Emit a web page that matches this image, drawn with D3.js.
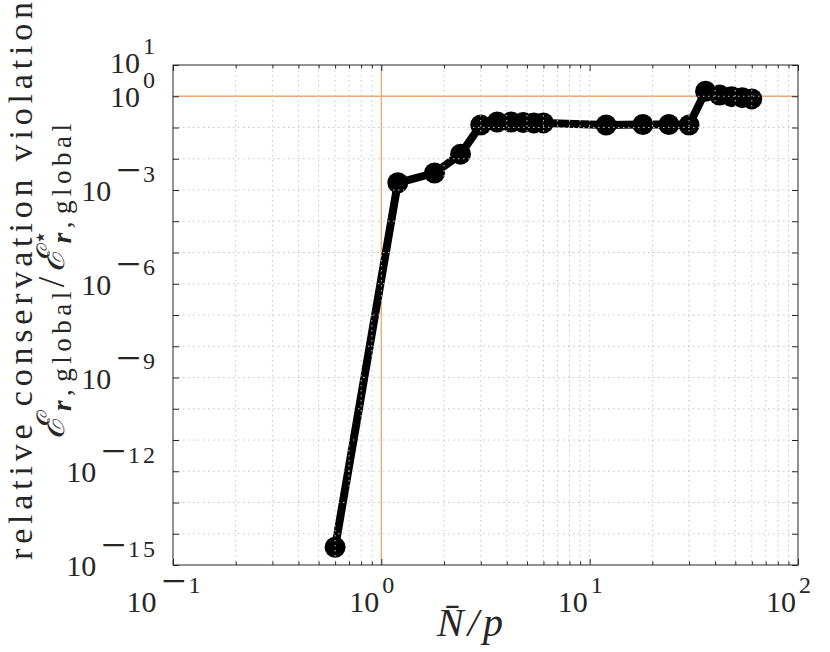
<!DOCTYPE html>
<html>
<head>
<meta charset="utf-8">
<script src="https://cdn.jsdelivr.net/npm/d3@7/dist/d3.min.js"></script>
<style>
  html, body { margin: 0; padding: 0; background: #fff; }
  svg { display: block; }
</style>
</head>
<body>
<svg id="chart" width="830" height="652"></svg>
<script>
// ---- data ----
const ratioValues = [0.6, 1.2, 1.8, 2.4, 3.0, 3.6, 4.2, 4.8, 5.4, 6.0, 12, 18, 24, 30, 36, 42, 48, 54, 60];
const violationValues = [3.7e-15, 1.7e-3, 3.5e-3, 1.4e-2, 0.12, 0.15, 0.15, 0.145, 0.14, 0.14, 0.12, 0.125, 0.125, 0.12, 1.45, 1.1, 0.97, 0.9, 0.82];
const xDomain = [0.1, 100];
const yDomain = [1e-15, 1e1];
const xTickValues = [0.1, 1, 10, 100];
const xTickExponents = ["−1", "0", "1", "2"];
const yTickValues = [1e1, 1e0, 1e-3, 1e-6, 1e-9, 1e-12, 1e-15];
const yTickExponents = ["1", "0", "−3", "−6", "−9", "−12", "−15"];
const xReference = [1];
const yReference = [1];
const yLabelLine1 = "relative conservation violation";
const xLabelText = "N\u0304/p";

// ---- layout ----
const svg = d3.select("#chart");
const plot = { left: 173, right: 798, top: 65, bottom: 565 };
const axisColor = "#262626";
const serif = "'Liberation Serif', 'DejaVu Serif', serif";

const x = d3.scaleLog().domain(xDomain).range([plot.left, plot.right]);
const y = d3.scaleLog().domain(yDomain).range([plot.bottom, plot.top]);

const isDecade = v => Math.abs(Math.log10(v) - Math.round(Math.log10(v))) < 1e-9;
const xMajor = x.ticks().filter(isDecade);
const xMinor = x.ticks().filter(v => !isDecade(v));
const yMajor = d3.range(Math.log10(yDomain[0]), Math.log10(yDomain[1]) + 1).map(e => Math.pow(10, e));

const g = svg.append("g");

// reference lines (under data)
g.selectAll(".xref").data(xReference).join("line")
  .attr("x1", d => x(d)).attr("x2", d => x(d))
  .attr("y1", plot.top).attr("y2", plot.bottom)
  .attr("stroke", "#f6a262").attr("stroke-width", 1.3);
g.selectAll(".yref").data(yReference).join("line")
  .attr("x1", plot.left).attr("x2", plot.right)
  .attr("y1", d => y(d)).attr("y2", d => y(d))
  .attr("stroke", "#f6a262").attr("stroke-width", 1.3);

// data line and markers
const pts = ratioValues.map((v, i) => [v, violationValues[i]]);
g.append("path").datum(pts)
  .attr("fill", "none").attr("stroke", "#000").attr("stroke-width", 8)
  .attr("stroke-linejoin", "round")
  .attr("d", d3.line().x(d => x(d[0])).y(d => y(d[1])));
g.selectAll(".pt").data(pts).join("circle")
  .attr("cx", d => x(d[0])).attr("cy", d => y(d[1])).attr("r", 10.5).attr("fill", "#000");

// grid (on top of data)
const gridStyle = sel => sel.attr("stroke", "#c4c4c4").attr("stroke-width", 1).attr("stroke-dasharray", "1.5,3.5");
g.selectAll(".gx").data(xMajor.concat(xMinor).filter(v => v > xDomain[0] && v < xDomain[1])).join("line")
  .attr("x1", d => x(d)).attr("x2", d => x(d)).attr("y1", plot.top).attr("y2", plot.bottom).call(gridStyle);
g.selectAll(".gy").data(yMajor.filter(v => v > yDomain[0] && v < yDomain[1])).join("line")
  .attr("y1", d => y(d)).attr("y2", d => y(d)).attr("x1", plot.left).attr("x2", plot.right).call(gridStyle);

// axes with inward ticks, mirrored (box)
const mkAxis = (axisFn, scale, vals, size) => axisFn(scale).tickValues(vals).tickSize(size).tickFormat("");
const drawAxis = (axis, tx, ty) => {
  const a = svg.append("g").attr("transform", `translate(${tx},${ty})`).call(axis);
  a.select(".domain").remove();
  a.selectAll("line").attr("stroke", axisColor).attr("stroke-width", 1);
  return a;
};
drawAxis(mkAxis(d3.axisTop, x, xMajor, 6), 0, plot.bottom);
drawAxis(mkAxis(d3.axisTop, x, xMinor, 3.5), 0, plot.bottom);
drawAxis(mkAxis(d3.axisBottom, x, xMajor, 6), 0, plot.top);
drawAxis(mkAxis(d3.axisBottom, x, xMinor, 3.5), 0, plot.top);
drawAxis(mkAxis(d3.axisRight, y, yMajor, 6), plot.left, 0);
drawAxis(mkAxis(d3.axisLeft, y, yMajor, 6), plot.right, 0);

svg.append("rect")
  .attr("x", plot.left).attr("y", plot.top)
  .attr("width", plot.right - plot.left).attr("height", plot.bottom - plot.top)
  .attr("fill", "none").attr("stroke", axisColor).attr("stroke-width", 1);

// tick labels: 10 with superscript exponent (wide minus like the reference)
const powerLabel = (sel, exp) => {
  sel.append("tspan").attr("font-size", 30).text("10");
  if (exp.startsWith("−")) {
    sel.append("tspan").attr("font-size", 44).attr("dy", -16).attr("dx", 5).text("−");
    sel.append("tspan").attr("font-size", 24).attr("dy", -3.5).attr("dx", 2)
      .attr("letter-spacing", 3).text(exp.slice(1));
  } else {
    sel.append("tspan").attr("font-size", 24).attr("dy", -19).attr("dx", 3)
      .attr("letter-spacing", 3).text(exp);
  }
};
xTickValues.forEach((v, i) => {
  const t = svg.append("text")
    .attr("x", x(v) - 8).attr("y", 612)
    .attr("text-anchor", "middle").attr("font-family", serif).attr("fill", axisColor);
  powerLabel(t, xTickExponents[i]);
});
yTickValues.forEach((v, i) => {
  const t = svg.append("text")
    .attr("x", 158).attr("y", y(v) + (i === 0 ? 8 : 11))
    .attr("text-anchor", "end").attr("font-family", serif).attr("fill", axisColor);
  powerLabel(t, yTickExponents[i]);
});

// x label
svg.append("text")
  .attr("x", 472).attr("y", 636)
  .attr("text-anchor", "middle").attr("font-family", serif).attr("font-style", "italic")
  .attr("font-size", 40).attr("fill", axisColor).attr("letter-spacing", 4)
  .text(xLabelText);

// y label, two lines
svg.append("text")
  .attr("transform", "translate(32,281) rotate(-90)")
  .attr("text-anchor", "middle").attr("font-family", serif)
  .attr("font-size", 34).attr("fill", axisColor)
  .attr("textLength", 558).attr("lengthAdjust", "spacing")
  .text(yLabelLine1);

const l2 = svg.append("text")
  .attr("transform", "translate(64,279) rotate(-90)")
  .attr("text-anchor", "middle").attr("font-family", serif)
  .attr("fill", axisColor).attr("letter-spacing", 4.5);
l2.append("tspan").attr("font-size", 38).attr("font-style", "italic").text("ℰ");
l2.append("tspan").attr("font-size", 27).attr("font-weight", "bold").attr("font-style", "italic").attr("dy", 7).text("r");
l2.append("tspan").attr("font-size", 27).text(",");
l2.append("tspan").attr("font-size", 27).attr("dx", 3).text("global");
l2.append("tspan").attr("font-size", 38).attr("dy", -7).text("/");
l2.append("tspan").attr("font-size", 38).attr("font-style", "italic").text("ℰ");
l2.append("tspan").attr("font-size", 24).attr("dy", -16).text("⋆");
l2.append("tspan").attr("font-size", 27).attr("font-weight", "bold").attr("font-style", "italic").attr("dy", 23).attr("dx", -18).text("r");
l2.append("tspan").attr("font-size", 27).text(",");
l2.append("tspan").attr("font-size", 27).attr("dx", 3).text("global");
</script>
</body>
</html>
